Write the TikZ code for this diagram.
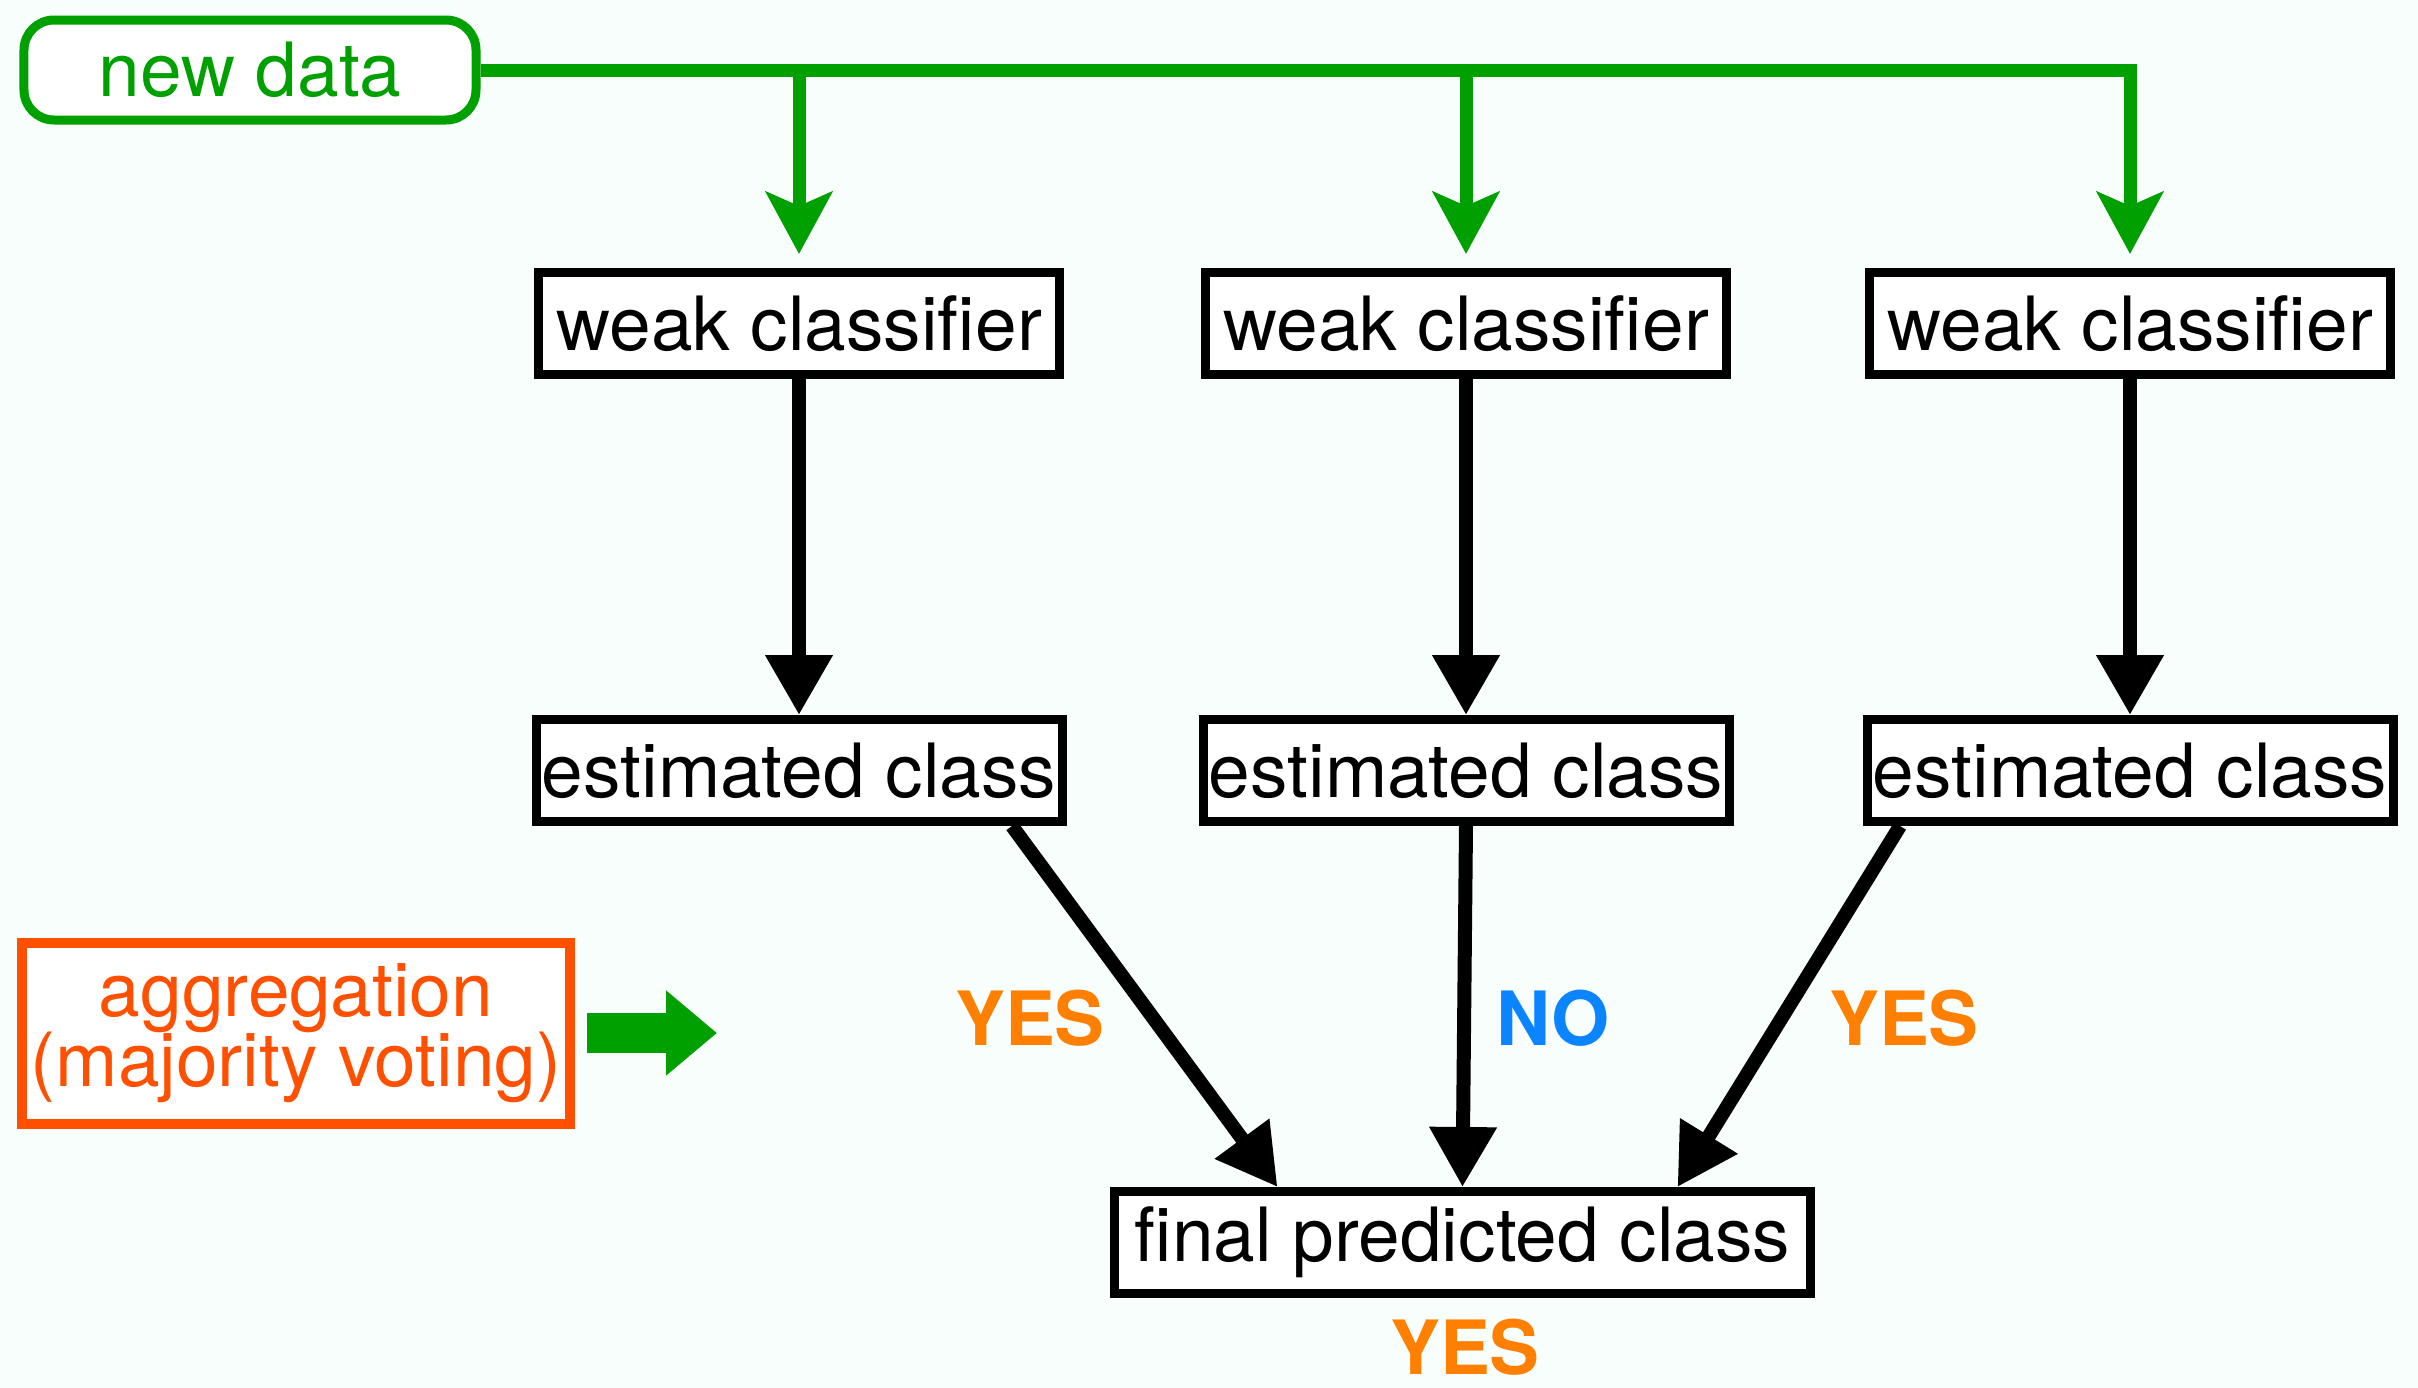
\documentclass[tikz,border=0pt]{standalone}
\usepackage{fontspec}
\setmainfont{TeX Gyre Heros}
\usetikzlibrary{arrows.meta,positioning}
\definecolor{datagreen}{RGB}{0,160,0}
\definecolor{aggorange}{RGB}{255,80,0}
\definecolor{yesorange}{RGB}{255,128,0}
\definecolor{noblue}{RGB}{10,132,255}
\definecolor{bgcyan}{RGB}{247,254,252}
\newcommand\aggfont{\fontsize{21.3pt}{19.8pt}\selectfont\lineskiplimit=-20pt\relax}

\begin{document}
\begin{tikzpicture}[
    box/.style={draw, fill=white, line width=0.09cm, inner sep=0pt,
      minimum height=1.02cm, font=\fontsize{21.3pt}{24pt}\selectfont},
    vote/.style={font=\bfseries\fontsize{21.3pt}{24pt}\selectfont, inner sep=0pt},
    flow/.style={line width=0.14cm,
      -{Triangle[length=0.6cm,width=0.64cm]}},
    dataflow/.style={datagreen, line width=0.13cm,
      -{Stealth[length=0.62cm,width=0.66cm,inset=0.14cm]}},
    votearrow/.style={datagreen, line width=0.4cm,
      -{Triangle[length=0.51cm,width=0.82cm]}}
  ]
  \fill[bgcyan] (0,0) rectangle (24.18,-13.88);

  % Define nodes
  \node[box, draw=datagreen, text=datagreen, rounded corners=0.3cm,
    minimum width=4.52cm, minimum height=1.0cm] (newdata) at (2.5,-0.70) {new data};
  \node[box, minimum width=5.21cm] (wc1) at (7.99,-3.235) {weak classifier};
  \node[box, minimum width=5.21cm, right=1.37cm of wc1] (wc2) {weak classifier};
  \node[box, minimum width=5.21cm, right=1.34cm of wc2] (wc3) {weak classifier};
  \node[box, minimum width=5.26cm, below=3.36cm of wc1] (est1) {estimated class};
  \node[box, minimum width=5.26cm, below=3.36cm of wc2] (est2) {estimated class};
  \node[box, minimum width=5.26cm, below=3.36cm of wc3] (est3) {estimated class};
  \node[box, minimum width=6.96cm] (final) at (14.625,-12.425) {final predicted class};
  \node[box, draw=aggorange, text=aggorange, line width=0.1cm, align=center,
    minimum width=5.48cm, minimum height=1.81cm, font=\aggfont] (agg) at (2.96,-10.33)
    {aggregation\\(majority voting)};
  \coordinate (aggtip) at (7.17,-10.33);

  \node[vote, text=yesorange] (yes1) at (10.30,-10.18) {YES};
  \node[vote, text=noblue]    (no2)  at (15.53,-10.18) {NO};
  \node[vote, text=yesorange] (yes3) at (19.04,-10.18) {YES};
  \node[vote, text=yesorange] (yesfinal) at (14.65,-13.47) {YES};

  % Connect the nodes
  \draw[dataflow] (newdata.east) -| ([yshift=0.14cm]wc3.north);
  \foreach \i in {1,2}
    \draw[dataflow] (newdata.east -| wc\i.north) -- ([yshift=0.14cm]wc\i.north);
  \foreach \i in {1,2,3}
    \draw[flow] (wc\i.south) -- (est\i.north);
  \draw[flow] ([xshift=2.13cm]est1.south) -- ([xshift=-1.85cm]final.north);
  \draw[flow] (est2.south) -- (final.north);
  \draw[flow] ([xshift=-2.3cm]est3.south) -- ([xshift=2.15cm]final.north);
  \draw[votearrow] ([xshift=0.12cm]agg.east) -- (aggtip);
\end{tikzpicture}
\end{document}
